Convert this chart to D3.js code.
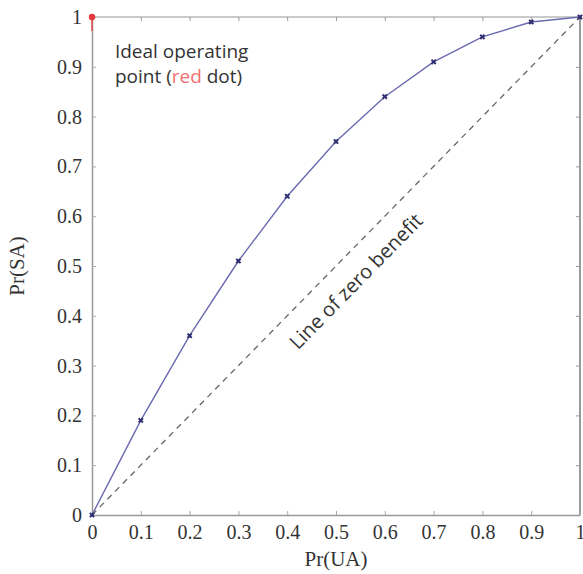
<!DOCTYPE html>
<html>
<head>
<meta charset="utf-8">
<script src="https://cdn.jsdelivr.net/npm/d3@7"></script>
<style>
  html, body { margin: 0; padding: 0; background: #fff; }
  svg { display: block; }
</style>
</head>
<body>
<svg id="chart" width="583" height="574"></svg>
<script>
// ---- data ----
const prUA = [0, 0.1, 0.2, 0.3, 0.4, 0.5, 0.6, 0.7, 0.8, 0.9, 1];
const prSA = [0, 0.19, 0.36, 0.51, 0.64, 0.75, 0.84, 0.91, 0.96, 0.99, 1];
const xTicks = [0, 0.1, 0.2, 0.3, 0.4, 0.5, 0.6, 0.7, 0.8, 0.9, 1];
const yTicks = [0, 0.1, 0.2, 0.3, 0.4, 0.5, 0.6, 0.7, 0.8, 0.9, 1];
const zeroLine = [[0, 0], [1, 1]];
const idealPoint = [0, 1];

const svg = d3.select("#chart");
const x = d3.scaleLinear().domain([0, 1]).range([92, 580]);
const y = d3.scaleLinear().domain([0, 1]).range([515, 17]);
const fmt = d => (d === 0 || d === 1) ? String(d) : d.toFixed(1);
const serif = "'Liberation Serif', 'DejaVu Serif', serif";
const sans = "'Open Sans', 'Lato', sans-serif";

// frame
svg.append("line").attr("x1", x(0)).attr("x2", x(1)).attr("y1", y(1)).attr("y2", y(1))
  .attr("stroke", "#b8b8b8").attr("stroke-width", 1.5);
svg.append("line").attr("x1", x(1)).attr("x2", x(1)).attr("y1", y(0)).attr("y2", y(1))
  .attr("stroke", "#777").attr("stroke-width", 1.5);

// bottom axis
const xAxis = svg.append("g").attr("transform", `translate(0,${y(0)})`)
  .call(d3.axisBottom(x).tickValues(xTicks).tickFormat(fmt).tickSizeInner(-4).tickSizeOuter(0).tickPadding(10));
xAxis.select(".domain").attr("stroke", "#999").attr("stroke-width", 1.5);
xAxis.selectAll(".tick line").attr("stroke", "#aaa");
xAxis.selectAll("text").attr("font-family", serif).attr("font-size", 20).attr("fill", "#333");

// left axis
const yAxis = svg.append("g").attr("transform", `translate(${x(0)},0)`)
  .call(d3.axisLeft(y).tickValues(yTicks).tickFormat(fmt).tickSizeInner(-4).tickSizeOuter(0).tickPadding(10));
yAxis.select(".domain").attr("stroke", "#999").attr("stroke-width", 1.5);
yAxis.selectAll(".tick line").attr("stroke", "#aaa");
yAxis.selectAll("text").attr("font-family", serif).attr("font-size", 20).attr("fill", "#333");

// mirrored ticks top and right
const topAx = svg.append("g").attr("transform", `translate(0,${y(1)})`)
  .call(d3.axisTop(x).tickValues(xTicks).tickFormat("").tickSizeInner(-4).tickSizeOuter(0));
topAx.select(".domain").remove();
topAx.selectAll(".tick line").attr("stroke", "#999");
const rightAx = svg.append("g").attr("transform", `translate(${x(1)},0)`)
  .call(d3.axisRight(y).tickValues(yTicks).tickFormat("").tickSizeInner(-4).tickSizeOuter(0));
rightAx.select(".domain").remove();
rightAx.selectAll(".tick line").attr("stroke", "#999");

// axis titles
svg.append("text").attr("x", x(0.5)).attr("y", 566).attr("text-anchor", "middle")
  .attr("font-family", serif).attr("font-size", 21).attr("fill", "#333").text("Pr(UA)");
svg.append("text").attr("transform", `translate(24,${y(0.5)}) rotate(-90)`).attr("text-anchor", "middle")
  .attr("font-family", serif).attr("font-size", 21).attr("fill", "#333").text("Pr(SA)");

// line of zero benefit
svg.append("path").datum(zeroLine)
  .attr("d", d3.line().x(d => x(d[0])).y(d => y(d[1])))
  .attr("fill", "none").attr("stroke", "#666").attr("stroke-width", 1.3).attr("stroke-dasharray", "6,5");

// ROC curve
const pts = prUA.map((v, i) => [v, prSA[i]]);
svg.append("path").datum(pts)
  .attr("d", d3.line().x(d => x(d[0])).y(d => y(d[1])))
  .attr("fill", "none").attr("stroke", "#6a6ab0").attr("stroke-width", 1.4);
svg.append("g").selectAll("path").data(pts).join("path")
  .attr("transform", d => `translate(${x(d[0])},${y(d[1])}) rotate(45)`)
  .attr("d", d3.symbol().type(d3.symbolCross).size(20))
  .attr("fill", "#2e2e70");

// ideal point
svg.append("line").attr("x1", x(idealPoint[0])).attr("x2", x(idealPoint[0]))
  .attr("y1", y(idealPoint[1])).attr("y2", y(idealPoint[1]) + 14)
  .attr("stroke", "#e04848").attr("stroke-width", 1.5);
svg.append("circle").attr("cx", x(idealPoint[0])).attr("cy", y(idealPoint[1])).attr("r", 3.2)
  .attr("fill", "#e8383c");

// annotations
const ann = svg.append("text").attr("font-family", sans).attr("font-size", 19).attr("fill", "#333");
ann.append("tspan").attr("x", x(0.047)).attr("y", 58).text("Ideal operating");
const l2 = ann.append("tspan").attr("x", x(0.047)).attr("y", 83);
l2.append("tspan").text("point (");
l2.append("tspan").attr("fill", "#f07070").text("red");
l2.append("tspan").text(" dot)");

const angle = Math.atan2(y(1) - y(0), x(1) - x(0)) * 180 / Math.PI;
svg.append("text")
  .attr("transform", `translate(${x(0.54)},${y(0.47)}) rotate(${angle})`)
  .attr("text-anchor", "middle").attr("dominant-baseline", "central")
  .attr("font-family", sans).attr("font-size", 20).attr("fill", "#333")
  .text("Line of zero benefit");
</script>
</body>
</html>
